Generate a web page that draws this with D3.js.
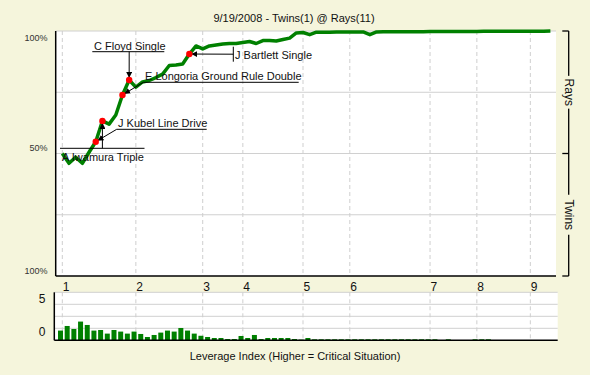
<!DOCTYPE html>
<html>
<head>
<meta charset="utf-8">
<script src="https://cdn.jsdelivr.net/npm/d3@7"></script>
<style>
  body { margin: 0; background: #f5f5dc; }
  text { font-family: "Liberation Sans", Arial, sans-serif; fill: #111; }
</style>
</head>
<body>
<div id="chart"></div>
<script>
/** chart title and axis texts */
var title = "9/19/2008 - Twins(1) @ Rays(11)";
var levTitle = "Leverage Index (Higher = Critical Situation)";
var probTickLabels = ["100%", "50%", "100%"];
var teamLabels = ["Rays", "Twins"];
var levTickLabels = ["5", "0"];

/** innings: plate appearance index where each inning starts */
var inningStarts = [0, 11, 21, 27, 36, 43, 55, 62, 70];
var inningLabels = ["1", "2", "3", "4", "5", "6", "7", "8", "9"];

/** Rays win probability after each plate appearance (index 0 = start of game) */
var winProb = [
  0.50, 0.46, 0.485, 0.46, 0.505, 0.548, 0.633, 0.62, 0.657, 0.739,
  0.80, 0.771, 0.792, 0.798, 0.81, 0.824, 0.859, 0.861, 0.865, 0.906,
  0.939, 0.927, 0.939, 0.943, 0.947, 0.949, 0.949, 0.953, 0.957, 0.949,
  0.961, 0.961, 0.959, 0.965, 0.971, 0.992, 0.994, 0.985, 0.995, 0.995,
  0.995, 0.996, 0.996, 0.996, 0.996, 0.996, 0.985, 0.996, 0.997, 0.997,
  0.997, 0.997, 0.997, 0.997, 0.997, 0.998, 0.998, 0.998, 0.998, 0.998,
  0.998, 0.998, 0.998, 0.999, 0.999, 0.999, 0.999, 0.999, 0.999, 0.999,
  0.999, 0.999, 0.999, 1.0
];

/** leverage index of each plate appearance */
var leverage = [
  1.35, 1.99, 1.57, 2.6, 2.13, 1.35, 1.43, 0.93, 1.43, 1.21,
  0.93, 1.21, 0.88, 0.46, 0.74, 1.07, 1.35, 1.21, 1.71, 1.35,
  0.93, 0.63, 0.46, 0.32, 0.32, 0.18, 0.18, 0.6, 0.32, 0.74,
  0.18, 0.32, 0.32, 0.32, 0.32, 0.18, 0.1, 0.32, 0.14, 0.14,
  0.14, 0.14, 0.14, 0.14, 0.14, 0.14, 0.14, 0.14, 0.14, 0.14,
  0.14, 0.14, 0.14, 0.14, 0.14, 0.14, 0.14, 0, 0.14, 0,
  0, 0, 0.14, 0.14, 0.14, 0, 0, 0, 0, 0,
  0, 0, 0
];

/** key plays: plate appearance index and label */
var events = [
  {pa: 6, label: "A Iwamura Triple"},
  {pa: 5, label: "J Kubel Line Drive"},
  {pa: 9, label: "E Longoria Ground Rule Double"},
  {pa: 10, label: "C Floyd Single"},
  {pa: 19, label: "J Bartlett Single"}
];

/** where each label sits: text pos, rule line, start of the pointer */
var labelLayout = [
  {tx: 62, ty: 161, rule: [60, 148.3, 144.5, 148.3], from: [102.4, 148.3]},
  {tx: 118, ty: 127, rule: [116.7, 129.3, 206.7, 129.3], from: [116.7, 129.3]},
  {tx: 145, ty: 79.5, rule: [143.3, 82.3, 298.7, 82.3], from: [143.3, 82.3]},
  {tx: 94, ty: 49.5, rule: [92.3, 51.7, 164.3, 51.7], from: [129.2, 51.7]},
  {tx: 235, ty: 58.5, rule: [233.3, 46.7, 233.3, 61.7], from: [233.3, 54.2]}
];

var bg = "#f5f5dc";
var width = 590, height = 375;

var svg = d3.select("#chart")
  .append("svg")
    .attr("width", width)
    .attr("height", height);

svg.append("defs").append("marker")
    .attr("id", "arrow")
    .attr("viewBox", "0 0 10 10")
    .attr("refX", 10)
    .attr("refY", 5)
    .attr("markerWidth", 6)
    .attr("markerHeight", 6)
    .attr("markerUnits", "userSpaceOnUse")
    .attr("orient", "auto")
  .append("path")
    .attr("d", "M0,0L10,5L0,10z")
    .attr("fill", "#000");

/** main win probability plot */
var main = {left: 55.7, right: 556, top: 31, bottom: 276};

var x = d3.scaleLinear()
  .domain([0, winProb.length - 1])
  .range([62.3, 550.4]);

var y = d3.scaleLinear()
  .domain([0, 1])
  .range([main.bottom, main.top]);

svg.append("rect")
  .attr("x", main.left)
  .attr("y", main.top)
  .attr("width", main.right - main.left)
  .attr("height", main.bottom - main.top)
  .attr("fill", "#fff");

/** horizontal grid */
svg.selectAll(".hgrid")
  .data([0.25, 0.5, 0.75, 1])
  .enter()
  .append("line")
    .attr("x1", main.left)
    .attr("x2", main.right)
    .attr("y1", function(d) { return y(d); })
    .attr("y2", function(d) { return y(d); })
    .attr("stroke", "#d0d0d0")
    .attr("stroke-width", 1);

/** inning grid (dashed) */
svg.selectAll(".vgrid")
  .data(inningStarts)
  .enter()
  .append("line")
    .attr("x1", function(d) { return x(d); })
    .attr("x2", function(d) { return x(d); })
    .attr("y1", main.top)
    .attr("y2", main.bottom)
    .attr("stroke", "#cfcfcf")
    .attr("stroke-dasharray", "4,3");

/** axes frame */
svg.append("line")
  .attr("x1", main.left).attr("x2", main.left)
  .attr("y1", main.top).attr("y2", main.bottom)
  .attr("stroke", "#000").attr("stroke-width", 1.5);
svg.append("line")
  .attr("x1", main.left).attr("x2", main.right)
  .attr("y1", main.bottom).attr("y2", main.bottom)
  .attr("stroke", "#000").attr("stroke-width", 1.5);

/** left percent labels */
var probTickPos = [[1, 10], [0.5, -2.5], [0, -2]];
svg.selectAll(".ptick")
  .data(probTickLabels)
  .enter()
  .append("text")
    .attr("x", 47.5)
    .attr("y", function(d, i) { return y(probTickPos[i][0]) + probTickPos[i][1]; })
    .attr("text-anchor", "end")
    .style("font-size", "9px")
    .style("fill", "#333")
    .text(function(d) { return d; });

/** right team axis */
var teamX = 568.7;
svg.append("line")
  .attr("x1", teamX).attr("x2", teamX)
  .attr("y1", main.top).attr("y2", main.bottom)
  .attr("stroke", "#000").attr("stroke-width", 1.3);
svg.selectAll(".rtick")
  .data([1, 0.5, 0])
  .enter()
  .append("line")
    .attr("x1", 562.3).attr("x2", teamX)
    .attr("y1", function(d) { return y(d); })
    .attr("y2", function(d) { return y(d); })
    .attr("stroke", "#000").attr("stroke-width", 1.3);

var teamPos = [0.75, 0.25];
var team = svg.selectAll(".team")
  .data(teamLabels)
  .enter()
  .append("g")
    .attr("transform", function(d, i) { return "translate(" + (teamX + 1) + "," + y(teamPos[i]) + ") rotate(90)"; });
team.append("rect")
  .attr("x", function(d) { return -d.length * 3.6 - 2; })
  .attr("y", -6)
  .attr("width", function(d) { return d.length * 7.2 + 4; })
  .attr("height", 12)
  .attr("fill", bg);
team.append("text")
  .attr("text-anchor", "middle")
  .attr("dy", "0.35em")
  .style("font-size", "12px")
  .text(function(d) { return d; });

/** inning labels */
svg.selectAll(".inning")
  .data(inningLabels)
  .enter()
  .append("text")
    .attr("x", function(d, i) { return x(inningStarts[i]) + 0.5; })
    .attr("y", 290.5)
    .style("font-size", "12px")
    .text(function(d) { return d; });

/** win probability line */
var line = d3.line()
  .x(function(d, i) { return x(i); })
  .y(function(d) { return y(d); });

svg.append("path")
  .datum(winProb)
  .attr("d", line)
  .attr("fill", "none")
  .attr("stroke", "#008000")
  .attr("stroke-width", 3.5)
  .attr("stroke-linejoin", "round");

/** annotations */
svg.selectAll(".rule")
  .data(labelLayout)
  .enter()
  .append("line")
    .attr("x1", function(d) { return d.rule[0]; })
    .attr("y1", function(d) { return d.rule[1]; })
    .attr("x2", function(d) { return d.rule[2]; })
    .attr("y2", function(d) { return d.rule[3]; })
    .attr("stroke", "#000");

svg.selectAll(".pointer")
  .data(events)
  .enter()
  .append("line")
    .attr("x1", function(d, i) { return labelLayout[i].from[0]; })
    .attr("y1", function(d, i) { return labelLayout[i].from[1]; })
    .attr("x2", function(d, i) {
      var l = labelLayout[i], dx = x(d.pa) - l.from[0], dy = y(winProb[d.pa]) - l.from[1];
      var len = Math.sqrt(dx * dx + dy * dy);
      return x(d.pa) - dx / len * 2;
    })
    .attr("y2", function(d, i) {
      var l = labelLayout[i], dx = x(d.pa) - l.from[0], dy = y(winProb[d.pa]) - l.from[1];
      var len = Math.sqrt(dx * dx + dy * dy);
      return y(winProb[d.pa]) - dy / len * 2;
    })
    .attr("stroke", "#000")
    .attr("marker-end", "url(#arrow)");

svg.selectAll(".dot")
  .data(events)
  .enter()
  .append("circle")
    .attr("cx", function(d) { return x(d.pa); })
    .attr("cy", function(d) { return y(winProb[d.pa]); })
    .attr("r", 3.2)
    .attr("fill", "#ff0000");

svg.selectAll(".evlabel")
  .data(events)
  .enter()
  .append("text")
    .attr("x", function(d, i) { return labelLayout[i].tx; })
    .attr("y", function(d, i) { return labelLayout[i].ty; })
    .style("font-size", "11px")
    .text(function(d) { return d.label; });

/** leverage index bar chart */
var lev = {left: 54.3, right: 557.7, top: 292.3, bottom: 340.3};

var yLev = d3.scaleLinear()
  .domain([0, 5])
  .range([lev.bottom, 304.3]);

svg.append("rect")
  .attr("x", lev.left)
  .attr("y", lev.top)
  .attr("width", lev.right - lev.left)
  .attr("height", lev.bottom - lev.top)
  .attr("fill", "#fff");

svg.selectAll(".lgrid")
  .data([5 / 3, 10 / 3, 5, 20 / 3])
  .enter()
  .append("line")
    .attr("x1", lev.left)
    .attr("x2", lev.right)
    .attr("y1", function(d) { return yLev(d); })
    .attr("y2", function(d) { return yLev(d); })
    .attr("stroke", "#d0d0d0");

svg.selectAll(".lvgrid")
  .data(inningStarts)
  .enter()
  .append("line")
    .attr("x1", function(d) { return x(d); })
    .attr("x2", function(d) { return x(d); })
    .attr("y1", lev.top)
    .attr("y2", lev.bottom)
    .attr("stroke", "#cfcfcf")
    .attr("stroke-dasharray", "4,3");

svg.selectAll(".bar")
  .data(leverage)
  .enter()
  .append("rect")
    .attr("x", function(d, i) { return x(i) - 4.3; })
    .attr("y", function(d) { return yLev(d); })
    .attr("width", 5)
    .attr("height", function(d) { return lev.bottom - yLev(d); })
    .attr("fill", "#008000");

svg.append("line")
  .attr("x1", lev.left).attr("x2", lev.left)
  .attr("y1", lev.top).attr("y2", lev.bottom)
  .attr("stroke", "#000").attr("stroke-width", 1.5);
svg.append("line")
  .attr("x1", lev.left).attr("x2", lev.right)
  .attr("y1", lev.bottom).attr("y2", lev.bottom)
  .attr("stroke", "#000").attr("stroke-width", 1.5);

var levTickPos = [[5, -1], [0, -4]];
svg.selectAll(".ltick")
  .data(levTickLabels)
  .enter()
  .append("text")
    .attr("x", 45.5)
    .attr("y", function(d, i) { return yLev(levTickPos[i][0]) + levTickPos[i][1]; })
    .attr("text-anchor", "end")
    .style("font-size", "12px")
    .text(function(d) { return d; });

/** titles */
svg.append("text")
  .attr("x", 294)
  .attr("y", 21.5)
  .attr("text-anchor", "middle")
  .style("font-size", "11px")
  .text(title);

svg.append("text")
  .attr("x", 295)
  .attr("y", 360)
  .attr("text-anchor", "middle")
  .style("font-size", "11px")
  .text(levTitle);
</script>
</body>
</html>
